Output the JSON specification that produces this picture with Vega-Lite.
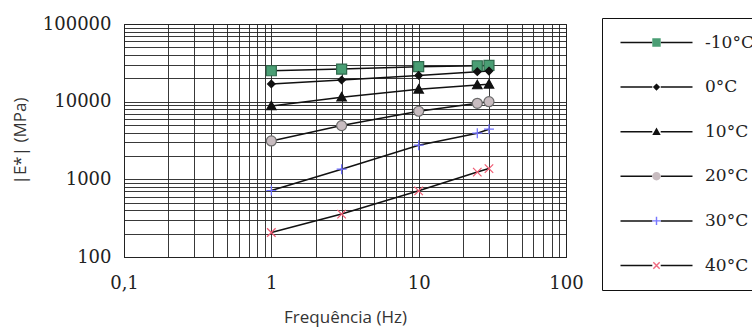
{
  "$schema": "https://vega.github.io/schema/vega-lite/v6.json",
  "width": 442,
  "height": 233,
  "autosize": {"type": "none"},
  "padding": {"left": 124, "top": 24, "right": 186, "bottom": 72},
  "background": "white",
  "config": {
    "view": {"stroke": "#222", "strokeWidth": 1},
    "axis": {
      "grid": true, "gridColor": "#222", "gridWidth": 0.9, "gridOpacity": 1,
      "domainColor": "#222", "ticks": false, "labelOverlap": false, "labelFlush": false,
      "labelFont": "DejaVu Serif", "labelFontSize": 18, "labelColor": "#222",
      "titleFont": "Open Sans", "titleFontSize": 16, "titleFontWeight": "normal", "titleColor": "#333"
    }
  },
  "data": {"values": [
    {"temp": "-10°C", "freq": 1, "E": 25000},
    {"temp": "-10°C", "freq": 3, "E": 26300},
    {"temp": "-10°C", "freq": 10, "E": 28200},
    {"temp": "-10°C", "freq": 25, "E": 29000},
    {"temp": "-10°C", "freq": 30, "E": 29300},
    {"temp": "0°C", "freq": 1, "E": 16900},
    {"temp": "0°C", "freq": 3, "E": 19000},
    {"temp": "0°C", "freq": 10, "E": 21800},
    {"temp": "0°C", "freq": 25, "E": 24300},
    {"temp": "0°C", "freq": 30, "E": 24800},
    {"temp": "10°C", "freq": 1, "E": 8800},
    {"temp": "10°C", "freq": 3, "E": 11400},
    {"temp": "10°C", "freq": 10, "E": 14400},
    {"temp": "10°C", "freq": 25, "E": 16400},
    {"temp": "10°C", "freq": 30, "E": 16700},
    {"temp": "20°C", "freq": 1, "E": 3120},
    {"temp": "20°C", "freq": 3, "E": 4920},
    {"temp": "20°C", "freq": 10, "E": 7530},
    {"temp": "20°C", "freq": 25, "E": 9530},
    {"temp": "20°C", "freq": 30, "E": 10000},
    {"temp": "30°C", "freq": 1, "E": 718},
    {"temp": "30°C", "freq": 3, "E": 1350},
    {"temp": "30°C", "freq": 10, "E": 2750},
    {"temp": "30°C", "freq": 25, "E": 3930},
    {"temp": "30°C", "freq": 30, "E": 4420},
    {"temp": "40°C", "freq": 1, "E": 207},
    {"temp": "40°C", "freq": 3, "E": 357},
    {"temp": "40°C", "freq": 10, "E": 711},
    {"temp": "40°C", "freq": 25, "E": 1240},
    {"temp": "40°C", "freq": 30, "E": 1376}
  ]},
  "encoding": {
    "x": {
      "field": "freq", "type": "quantitative",
      "scale": {"type": "log", "domain": [0.1, 100], "nice": false},
      "axis": {
        "values": [0.1,0.2,0.3,0.4,0.5,0.6,0.7,0.8,0.9,1,2,3,4,5,6,7,8,9,10,20,30,40,50,60,70,80,90,100],
        "labelExpr": "datum.value==0.1?'0,1':datum.value==1?'1':datum.value==10?'10':datum.value==100?'100':''",
        "labelPadding": 17,
        "title": "Frequência (Hz)", "titlePadding": 17, "titleFontSize": 17
      }
    },
    "y": {
      "field": "E", "type": "quantitative",
      "scale": {"type": "log", "domain": [100, 100000], "nice": false},
      "axis": {
        "values": [100,200,300,400,500,600,700,800,900,1000,2000,3000,4000,5000,6000,7000,8000,9000,10000,20000,30000,40000,50000,60000,70000,80000,90000,100000],
        "format": "d",
        "labelExpr": "(datum.value==100||datum.value==1000||datum.value==10000||datum.value==100000)?datum.label:''",
        "labelPadding": 13,
        "title": "|E*| (MPa)", "titlePadding": 13, "titleFontSize": 17
      }
    }
  },
  "layer": [
    {
      "mark": {"type": "line", "strokeWidth": 1.5},
      "encoding": {
        "stroke": {
          "field": "temp", "type": "nominal",
          "scale": {"range": ["#111","#111","#111","#111","#111","#111"]},
          "legend": {
            "orient": "none", "legendX": 478, "legendY": -6, "title": null,
            "symbolType": "M-1,0H4.3M5.7,0H11", "symbolSize": 144, "symbolStrokeWidth": 1.5, "symbolFillColor": "transparent",
            "labelOffset": 70, "labelFont": "DejaVu Serif", "labelFontSize": 17, "labelColor": "transparent",
            "rowPadding": 26.6, "padding": 16, "strokeColor": "#111",
            "encode": {"legend": {"strokeWidth": {"value": 1.5}}}
          }
        }
      }
    },
    {
      "mark": {"type": "point", "filled": true, "size": 100, "strokeWidth": 1.2, "opacity": 1},
      "encoding": {
        "shape": {
          "field": "temp", "type": "nominal", "legend": null,
          "scale": {"domain": ["-10°C","0°C","10°C","20°C","30°C","40°C"], "range": [
            "M-1,-1H1V1H-1Z",
            "M0,-0.75L0.75,0L0,0.75L-0.75,0Z",
            "M0,-0.95L0.95,0.75H-0.95Z",
            "circle",
            "M-1,0H1M0,-1V1",
            "M-0.85,-0.85L0.85,0.85M-0.85,0.85L0.85,-0.85"
          ]}
        },
        "fill": {
          "field": "temp", "type": "nominal", "legend": null,
          "scale": {"domain": ["-10°C","0°C","10°C","20°C","30°C","40°C"], "range": ["#4a9e74","#111","#111","#c8bcc0","#7878ff","#f06a80"]}
        },
        "stroke": {
          "field": "temp", "type": "nominal", "legend": null,
          "scale": {"domain": ["-10°C","0°C","10°C","20°C","30°C","40°C"], "range": ["#2f6b4d","#111","#111","#6a6a6a","#6f6fff","#f05a72"]}
        }
      }
    },
    {
      "mark": {"type": "point", "filled": true, "opacity": 0},
      "encoding": {
        "shape": {
          "field": "temp", "type": "nominal",
          "scale": {"domain": ["-10°C","0°C","10°C","20°C","30°C","40°C"], "range": [
            "M-1,-0.01h0.02v0.02h-0.02ZM10.98,-0.01h0.02v0.02h-0.02ZM4.3,-0.7H5.7V0.7H4.3Z",
            "M-1,-0.01h0.02v0.02h-0.02ZM10.98,-0.01h0.02v0.02h-0.02ZM5,-0.6L5.6,0L5,0.6L4.4,0Z",
            "M-1,-0.01h0.02v0.02h-0.02ZM10.98,-0.01h0.02v0.02h-0.02ZM5,-0.7L5.7,0.55H4.3Z",
            "M-1,-0.01h0.02v0.02h-0.02ZM10.98,-0.01h0.02v0.02h-0.02ZM4.3,0A0.7,0.7 0 1,0 5.7,0A0.7,0.7 0 1,0 4.3,0Z",
            "M-1,-0.01h0.02v0.02h-0.02ZM10.98,-0.01h0.02v0.02h-0.02ZM4.88,-0.7H5.12V-0.12H5.7V0.12H5.12V0.7H4.88V0.12H4.3V-0.12H4.88Z",
            "M-1,-0.01h0.02v0.02h-0.02ZM10.98,-0.01h0.02v0.02h-0.02ZM5.445,0.615L5.615,0.445L4.555,-0.615L4.385,-0.445ZM5.615,-0.445L5.445,-0.615L4.385,0.445L4.555,0.615Z"
          ]},
          "legend": {
            "orient": "none", "legendX": 478, "legendY": -6, "title": null,
            "symbolSize": 144, "symbolStrokeWidth": 0, "symbolOpacity": 1,
            "labelOffset": 70, "labelFont": "DejaVu Serif", "labelFontSize": 17, "labelColor": "#222",
            "rowPadding": 26.6, "padding": 16, "strokeColor": "transparent"
          }
        },
        "fill": {
          "field": "temp", "type": "nominal",
          "scale": {"domain": ["-10°C","0°C","10°C","20°C","30°C","40°C"], "range": ["#4a9e74","#111","#111","#c8bcc0","#7878ff","#f06a80"]},
          "legend": {
            "orient": "none", "legendX": 478, "legendY": -6, "title": null,
            "symbolSize": 144, "symbolStrokeWidth": 0, "symbolOpacity": 1,
            "labelOffset": 70, "labelFont": "DejaVu Serif", "labelFontSize": 17, "labelColor": "#222",
            "rowPadding": 26.6, "padding": 16, "strokeColor": "transparent"
          }
        }
      }
    }
  ],
  "resolve": {"scale": {"stroke": "independent", "shape": "independent", "fill": "independent"}}
}
